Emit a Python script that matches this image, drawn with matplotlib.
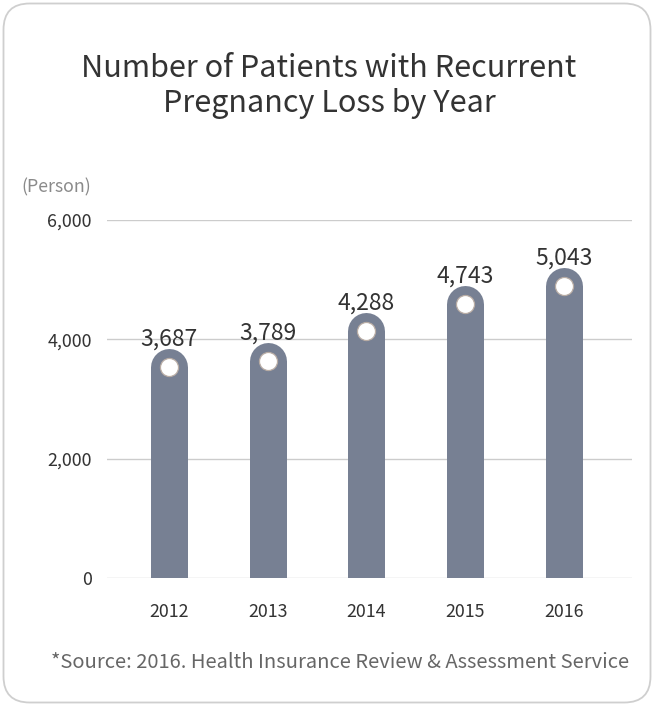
import matplotlib
matplotlib.use("Agg")
import matplotlib.pyplot as plt
import matplotlib.transforms as mtransforms
from matplotlib.patches import FancyBboxPatch

years = ["2012", "2013", "2014", "2015", "2016"]
patients = [3687, 3789, 4288, 4743, 5043]
y_ticks = [0, 2000, 4000, 6000]

plt.rcParams["font.family"] = ["Noto Sans CJK KR", "DejaVu Sans"]

W, H, DPI = 654, 706, 100
fig = plt.figure(figsize=(W / DPI, H / DPI), dpi=DPI, facecolor="white")

# rounded card border, kept behind the axes
card = FancyBboxPatch((3.5 / W, 3.5 / H), (W - 7) / W, (H - 7) / H,
                      boxstyle="round,pad=0,rounding_size=0.04",
                      transform=fig.transFigure, facecolor="white",
                      edgecolor="#cfcfcf", linewidth=1.3,
                      mutation_aspect=W / H, zorder=-5)
fig.patches.append(card)

ax = fig.add_axes([107 / W, 1 - 578 / H, (632 - 107) / W, (578 - 220) / H])
ax.set_facecolor("none")
ax.set_zorder(2)

x = list(range(len(years)))
bar_color = "#778093"
bar_px = 37
lw_pt = bar_px * 72 / DPI
# shift the rounded bars down a touch so the cap sits near the value
shift = mtransforms.ScaledTranslation(0, -9 / DPI, fig.dpi_scale_trans)
for xi, v in zip(x, patients):
    ax.plot([xi, xi], [-1000, v], color=bar_color, linewidth=lw_pt,
            solid_capstyle="round", transform=ax.transData + shift, zorder=3)
    ax.plot([xi], [v], marker="o", markersize=13, markerfacecolor="white",
            markeredgecolor="#b8aca4", markeredgewidth=0.9,
            transform=ax.transData + shift, zorder=4)
    ax.annotate(f"{v:,}", (xi, v), xytext=(0, 5.5), textcoords="offset points",
                ha="center", va="bottom", fontsize=16.5, color="#333333", zorder=5)

ax.set_xlim(-0.626, 4.687)
ax.set_ylim(0, 6000)
ax.set_yticks(y_ticks)
ax.set_yticklabels([f"{t:,}" for t in y_ticks])
ax.set_xticks(x)
ax.set_xticklabels(years)
ax.grid(axis="y", color="#cccccc", linewidth=1)
ax.set_axisbelow(True)
for s in ax.spines.values():
    s.set_visible(False)
ax.tick_params(axis="both", length=0, labelsize=12.8, colors="#333333")
ax.tick_params(axis="y", pad=11)
ax.tick_params(axis="x", pad=18)

fig.text(56 / W, 1 - 187 / H, "(Person)", ha="center", va="center",
         fontsize=12.8, color="#8a8a8a")
fig.text(329 / W, 1 - 86 / H, "Number of Patients with Recurrent\nPregnancy Loss by Year",
         ha="center", va="center", fontsize=22, color="#333333", linespacing=1.2)
fig.text(340 / W, 1 - 663 / H,
         "*Source: 2016. Health Insurance Review & Assessment Service",
         ha="center", va="center", fontsize=14.5, color="#666666")

fig.savefig("out.png", dpi=DPI, facecolor="white")
